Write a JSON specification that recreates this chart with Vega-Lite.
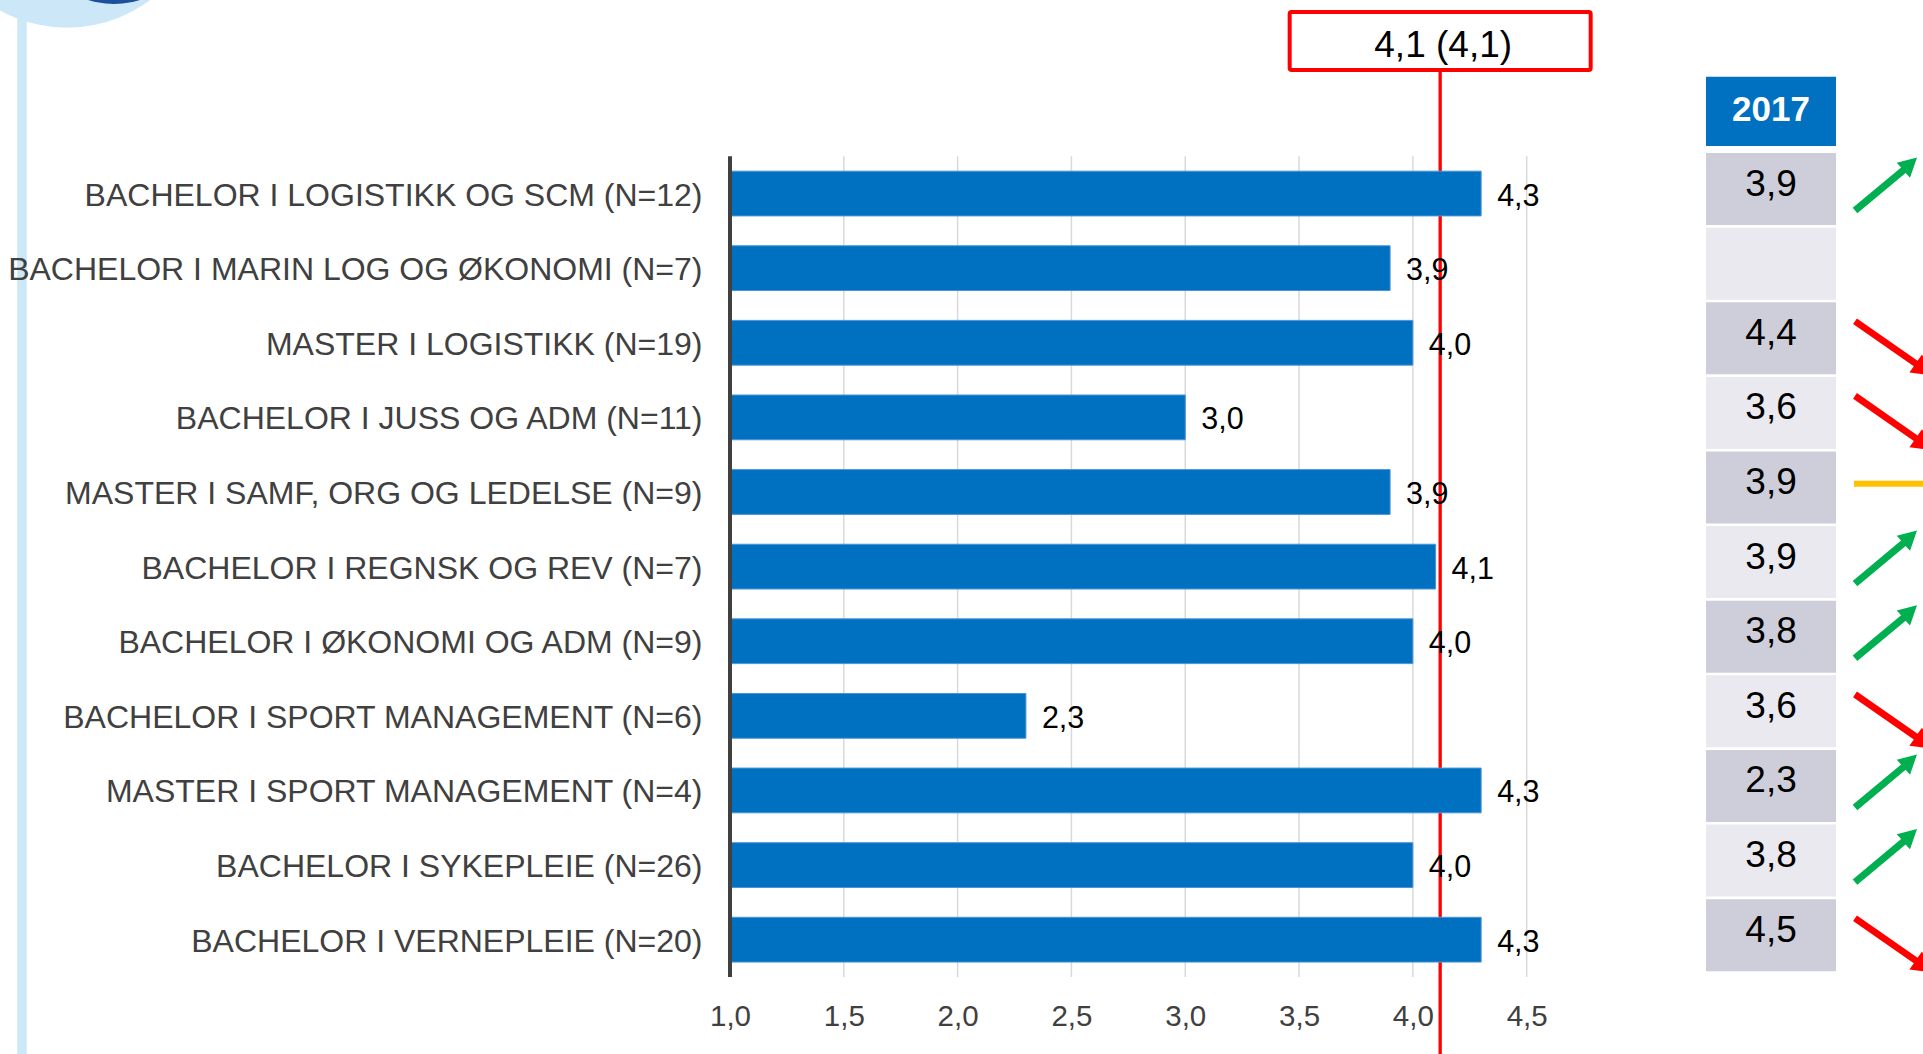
{
  "$schema": "https://vega.github.io/schema/vega-lite/v6.json",
  "width": 1193,
  "height": 970,
  "autosize": {"type": "none"},
  "padding": {"left": 730, "top": 7, "right": 0, "bottom": 77},
  "background": "white",
  "config": {
    "view": {"stroke": null},
    "font": "Liberation Sans",
    "locale": {"number": {"decimal": ",", "thousands": " ", "grouping": [3], "currency": ["", " kr"]}},
    "axisX": {
      "title": null, "grid": false, "domain": false, "ticks": false, "tickSize": 0,
      "labelPadding": 25, "labelFontSize": 29.5, "labelColor": "#404040",
      "labelFont": "Liberation Sans", "labelFlush": false, "labelOverlap": false
    },
    "axisY": {
      "title": null, "domain": false, "ticks": false, "tickSize": 0, "grid": false,
      "labelPadding": 28, "labelFontSize": 32, "labelColor": "#404040", "labelLimit": 1000,
      "labelFont": "Liberation Sans", "labelOffset": 2
    }
  },
  "datasets": {
    "programs": [
      {"program": "BACHELOR I LOGISTIKK OG SCM (N=12)", "value": 4.3, "y2017": 3.9, "trend": "up"},
      {"program": "BACHELOR I MARIN LOG OG ØKONOMI (N=7)", "value": 3.9, "y2017": null, "trend": null},
      {"program": "MASTER I LOGISTIKK (N=19)", "value": 4.0, "y2017": 4.4, "trend": "down"},
      {"program": "BACHELOR I JUSS OG ADM (N=11)", "value": 3.0, "y2017": 3.6, "trend": "down"},
      {"program": "MASTER I SAMF, ORG OG LEDELSE (N=9)", "value": 3.9, "y2017": 3.9, "trend": "flat"},
      {"program": "BACHELOR I REGNSK OG REV (N=7)", "value": 4.1, "y2017": 3.9, "trend": "up"},
      {"program": "BACHELOR I ØKONOMI OG ADM (N=9)", "value": 4.0, "y2017": 3.8, "trend": "up"},
      {"program": "BACHELOR I SPORT MANAGEMENT (N=6)", "value": 2.3, "y2017": 3.6, "trend": "down"},
      {"program": "MASTER I SPORT MANAGEMENT (N=4)", "value": 4.3, "y2017": 2.3, "trend": "up"},
      {"program": "BACHELOR I SYKEPLEIE (N=26)", "value": 4.0, "y2017": 3.8, "trend": "up"},
      {"program": "BACHELOR I VERNEPLEIE (N=20)", "value": 4.3, "y2017": 4.5, "trend": "down"}
    ],
    "mean": [{"row": "BOX", "label": "4,1 (4,1)", "value": 4.12}],
    "header": [{"row": "HDR", "label": "2017"}],
    "grid": [{"g": 1.5}, {"g": 2.0}, {"g": 2.5}, {"g": 3.0}, {"g": 3.5}, {"g": 4.0}, {"g": 4.5}]
  },
  "layer": [
    {
      "data": {"name": "header"},
      "mark": {"type": "rule", "color": "#CCE8F8", "strokeWidth": 9.5, "yOffset": -7, "y2Offset": 77},
      "encoding": {
        "x": {"datum": -2.1105, "type": "quantitative"},
        "y": {"datum": "BOX", "type": "nominal", "bandPosition": 0},
        "y2": {"datum": "BACHELOR I VERNEPLEIE (N=20)", "bandPosition": 1}
      }
    },
    {
      "data": {"name": "header"},
      "mark": {"type": "point", "shape": "circle", "filled": true, "opacity": 1, "strokeWidth": 0, "color": "#CCE8F8", "size": 76397, "yOffset": -117.5},
      "encoding": {
        "x": {"datum": -1.9128, "type": "quantitative"},
        "y": {"datum": "BOX", "type": "nominal", "bandPosition": 0}
      }
    },
    {
      "data": {"name": "header"},
      "mark": {"type": "point", "shape": "circle", "filled": true, "opacity": 1, "strokeWidth": 0, "color": "#1C4F9C", "size": 29929, "yOffset": -89.5},
      "encoding": {
        "x": {"datum": -1.7063, "type": "quantitative"},
        "y": {"datum": "BOX", "type": "nominal", "bandPosition": 0}
      }
    },
    {
      "data": {"name": "grid"},
      "mark": {"type": "rule", "color": "#D9D9D9", "strokeWidth": 1.5},
      "encoding": {
        "x": {"field": "g", "type": "quantitative"},
        "y": {"datum": "BACHELOR I LOGISTIKK OG SCM (N=12)", "type": "nominal", "bandPosition": 0},
        "y2": {"datum": "BACHELOR I VERNEPLEIE (N=20)", "bandPosition": 1}
      }
    },
    {
      "data": {"name": "mean"},
      "mark": {"type": "rule", "color": "#FF0000", "strokeWidth": 3.3, "y2Offset": 77},
      "encoding": {
        "x": {"field": "value", "type": "quantitative"},
        "y": {"field": "row", "type": "nominal"},
        "y2": {"datum": "BACHELOR I VERNEPLEIE (N=20)", "bandPosition": 1}
      }
    },
    {
      "data": {"name": "programs"},
      "mark": {"type": "bar", "color": "#0070C0", "stroke": "#4a94d6", "strokeWidth": 1, "height": {"band": 0.6}},
      "encoding": {
        "x": {
          "field": "value", "type": "quantitative",
          "scale": {"domain": [1, 6.2412], "nice": false, "zero": false},
          "axis": {"values": [1, 1.5, 2, 2.5, 3, 3.5, 4, 4.5], "format": ".1f", "title": null, "zindex": 1}
        },
        "x2": {"datum": 1},
        "y": {
          "field": "program", "type": "nominal",
          "scale": {
            "domain": ["BOX", "HDR",
              "BACHELOR I LOGISTIKK OG SCM (N=12)", "BACHELOR I MARIN LOG OG ØKONOMI (N=7)",
              "MASTER I LOGISTIKK (N=19)", "BACHELOR I JUSS OG ADM (N=11)",
              "MASTER I SAMF, ORG OG LEDELSE (N=9)", "BACHELOR I REGNSK OG REV (N=7)",
              "BACHELOR I ØKONOMI OG ADM (N=9)", "BACHELOR I SPORT MANAGEMENT (N=6)",
              "MASTER I SPORT MANAGEMENT (N=4)", "BACHELOR I SYKEPLEIE (N=26)",
              "BACHELOR I VERNEPLEIE (N=20)"],
            "paddingInner": 0, "paddingOuter": 0
          },
          "axis": {
            "title": null, "zindex": 1,
            "labelExpr": "datum.value === 'BOX' || datum.value === 'HDR' ? '' : datum.label"
          }
        }
      }
    },
    {
      "data": {"name": "programs"},
      "mark": {"type": "text", "align": "left", "baseline": "middle", "dx": 16, "dy": 3, "fontSize": 30.5, "color": "#000000", "font": "Liberation Sans"},
      "encoding": {
        "x": {"field": "value", "type": "quantitative"},
        "y": {"field": "program", "type": "nominal"},
        "text": {"field": "value", "type": "quantitative", "format": ".1f"}
      }
    },
    {
      "data": {"name": "header"},
      "mark": {"type": "rule", "color": "#404040", "strokeWidth": 4},
      "encoding": {
        "x": {"datum": 1, "type": "quantitative"},
        "y": {"datum": "BACHELOR I LOGISTIKK OG SCM (N=12)", "type": "nominal", "bandPosition": 0},
        "y2": {"datum": "BACHELOR I VERNEPLEIE (N=20)", "bandPosition": 1}
      }
    },
    {
      "data": {"name": "mean"},
      "mark": {"type": "bar", "fill": "#FFFFFF", "stroke": "#FF0000", "strokeWidth": 4, "cornerRadius": 2,
               "height": {"band": 0.777}, "xOffset": -150.5, "x2Offset": 150.5, "yOffset": -3.3},
      "encoding": {
        "x": {"field": "value", "type": "quantitative"},
        "x2": {"field": "value"},
        "y": {"field": "row", "type": "nominal"}
      }
    },
    {
      "data": {"name": "mean"},
      "mark": {"type": "text", "align": "center", "baseline": "middle", "dx": 3, "dy": 2, "fontSize": 37, "color": "#000000", "font": "Liberation Sans"},
      "encoding": {
        "x": {"field": "value", "type": "quantitative"},
        "y": {"field": "row", "type": "nominal"},
        "text": {"field": "label", "type": "nominal"}
      }
    },
    {
      "data": {"name": "header"},
      "mark": {"type": "bar", "fill": "#0070C0", "height": {"band": 0.93}, "yOffset": -7.6},
      "encoding": {
        "x": {"datum": 5.2879, "type": "quantitative"},
        "x2": {"datum": 5.859},
        "y": {"field": "row", "type": "nominal"}
      }
    },
    {
      "data": {"name": "header"},
      "mark": {"type": "text", "align": "center", "baseline": "middle", "dy": -9, "fontSize": 35, "fontWeight": "bold", "color": "#FFFFFF", "font": "Liberation Sans"},
      "encoding": {
        "x": {"datum": 5.5735, "type": "quantitative"},
        "y": {"field": "row", "type": "nominal"},
        "text": {"field": "label", "type": "nominal"}
      }
    },
    {
      "data": {"name": "programs"},
      "transform": [{"window": [{"op": "row_number", "as": "rn"}]}],
      "mark": {"type": "bar", "height": {"band": 0.965}, "yOffset": -4.5},
      "encoding": {
        "x": {"datum": 5.2879, "type": "quantitative"},
        "x2": {"datum": 5.859},
        "y": {"field": "program", "type": "nominal"},
        "color": {"condition": {"test": "datum.rn % 2 === 1", "value": "#CDCED9"}, "value": "#E9E9EF"}
      }
    },
    {
      "data": {"name": "programs"},
      "transform": [{"filter": "isValid(datum.y2017)"}],
      "mark": {"type": "text", "align": "center", "baseline": "middle", "dy": -9, "fontSize": 37, "color": "#000000", "font": "Liberation Sans"},
      "encoding": {
        "x": {"datum": 5.5735, "type": "quantitative"},
        "y": {"field": "program", "type": "nominal"},
        "text": {"field": "y2017", "type": "quantitative", "format": ".1f"}
      }
    },
    {
      "data": {"name": "programs"},
      "transform": [{"filter": "isValid(datum.trend)"}],
      "mark": {"type": "point", "filled": true, "opacity": 1, "strokeWidth": 0, "size": 10000},
      "encoding": {
        "x": {"datum": 6.0787, "type": "quantitative"},
        "y": {"field": "program", "type": "nominal"},
        "shape": {
          "field": "trend", "type": "nominal", "legend": null,
          "scale": {
            "domain": ["up", "down", "flat"],
            "range": [
              "M -0.574 0.394 L 0.392 -0.412 L 0.48 -0.316 L 0.62 -0.72 L 0.214 -0.616 L 0.302 -0.52 L -0.666 0.286 Z",
              "M -0.658 -0.374 L 0.556 0.472 L 0.468 0.596 L 0.938 0.656 L 0.72 0.236 L 0.632 0.36 L -0.582 -0.486 Z",
              "M -0.64 -0.226 L 0.9 -0.226 L 0.9 -0.106 L -0.64 -0.106 Z"
            ]
          }
        },
        "color": {
          "field": "trend", "type": "nominal", "legend": null,
          "scale": {"domain": ["up", "down", "flat"], "range": ["#00B050", "#FF0000", "#FFC000"]}
        }
      }
    }
  ]
}
